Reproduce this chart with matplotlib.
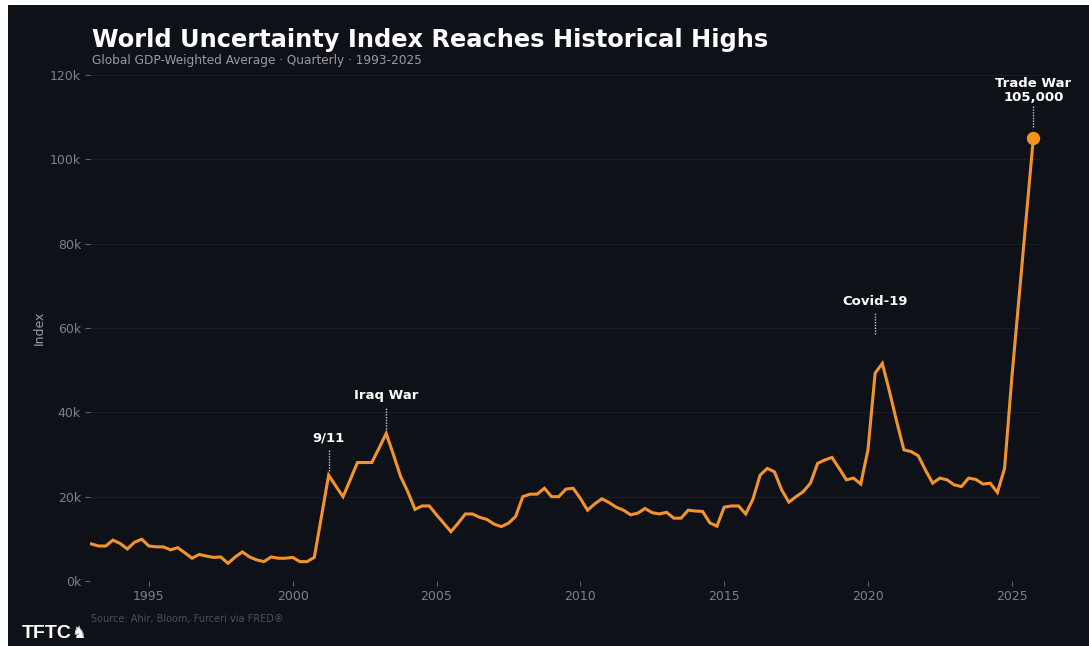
#Importing libraries
import matplotlib.pyplot as plt
import pandas as pd
from matplotlib.patches import Rectangle
from matplotlib.ticker import FuncFormatter

#Quarterly World Uncertainty Index, GDP-weighted average, 1993Q1 - 2025Q4
quarters = pd.period_range('1993Q1', '2025Q4', freq='Q')
wui = [
  8800, 8300, 8300, 9700,      # 1993
  8900, 7600, 9200, 9900,      # 1994
  8300, 8100, 8100, 7400,      # 1995
  7900, 6700, 5400, 6300,      # 1996
  5900, 5600, 5700, 4200,      # 1997
  5700, 6900, 5700, 5000,      # 1998
  4600, 5700, 5400, 5400,      # 1999
  5600, 4600, 4600, 5600,      # 2000
  15300, 25100, 22500, 20000,  # 2001
  24000, 28100, 28100, 28100,  # 2002
  31500, 35000, 30000, 24800,  # 2003
  21200, 17000, 17800, 17800,  # 2004
  15700, 13700, 11700, 13700,  # 2005
  15900, 15900, 15100, 14600,  # 2006
  13500, 12900, 13700, 15300,  # 2007
  20000, 20600, 20600, 22000,  # 2008
  20000, 20000, 21800, 22000,  # 2009
  19600, 16800, 18300, 19500,  # 2010
  18600, 17500, 16800, 15700,  # 2011
  16100, 17200, 16200, 15900,  # 2012
  16300, 14900, 14900, 16800,  # 2013
  16600, 16500, 13800, 13000,  # 2014
  17500, 17800, 17800, 15900,  # 2015
  19400, 25100, 26700, 25900,  # 2016
  21600, 18700, 20000, 21200,  # 2017
  23200, 27900, 28700, 29300,  # 2018
  26700, 24000, 24400, 23000,  # 2019
  31100, 49300, 51600, 44900,  # 2020
  37800, 31100, 30700, 29700,  # 2021
  26300, 23200, 24400, 24000,  # 2022
  22800, 22400, 24400, 24100,  # 2023
  23000, 23200, 21000, 26700,  # 2024
  48000, 67000, 86000, 105000, # 2025
]

#Events to annotate
events = ['9/11', 'Iraq War', 'Covid-19', 'Trade War\n105,000']
event_quarters = ['2001Q2', '2003Q2', '2020Q2', '2025Q4']
#where the dotted leader starts and where its label sits
leader_top = [31000, 41000, 63500, 112700]
label_y = [33800, 43900, 66300, 116300]

#Colours
bg = '#0e1118'
orange = '#f2932c'

def to_year(periods):
  """Turns quarterly periods into decimal years"""
  return periods.year + (periods.quarter - 1) / 4

x = to_year(quarters)

fig = plt.figure(figsize=(10.89, 6.46), dpi=100, facecolor=bg)
ax = fig.add_axes([0.0826, 0.1006, 0.8742, 0.7833])
ax.set_facecolor(bg)

#Main line
ax.plot(x, wui, color=orange, linewidth=2.2, solid_joinstyle='miter', zorder=3)
ax.plot(x[-1:], wui[-1:], 'o', color='#f7931a', markersize=8.6, zorder=4)

#Annotations
event_x = to_year(pd.PeriodIndex(event_quarters, freq='Q'))
for label, ex, top, ty in zip(events, event_x, leader_top, label_y):
  ax.plot([ex, ex], [top - 5000, top], color='#c8c8c8', linewidth=1,
          linestyle=(0, (1, 1)), zorder=2)
  ax.text(ex, ty, label, color='white', fontsize=9.5, fontweight='bold',
          ha='center', va='center', multialignment='center', linespacing=1.05)

#Axes styling
ax.set_xlim(1992.95, 2026.05)
ax.set_ylim(0, 120000)
ax.set_xticks([1995, 2000, 2005, 2010, 2015, 2020, 2025])
ax.set_yticks(range(0, 120001, 20000))
ax.yaxis.set_major_formatter(FuncFormatter(lambda v, p: f'{v / 1000:.0f}k'))
ax.tick_params(colors='#5d626b', labelcolor='#7c818a', labelsize=9,
               length=3.5, width=0.8, pad=3)
ax.grid(axis='y', color='#191d26', linewidth=0.8)
ax.set_axisbelow(True)
for spine in ax.spines.values():
  spine.set_visible(False)

ax.set_ylabel('Index', color='#9a9ea6', fontsize=9)
ax.yaxis.set_label_coords(-0.046, 0.5)

#Titles and footer
fig.text(0.0845, 0.9272, 'World Uncertainty Index Reaches Historical Highs',
         color='white', fontsize=17.4, fontweight='bold', va='baseline')
fig.text(0.0845, 0.9009, 'Global GDP-Weighted Average \u00b7 Quarterly \u00b7 1993-2025',
         color='#9a9a9a', fontsize=8.7, va='baseline')
fig.text(0.0835, 0.0418, 'Source: Ahir, Bloom, Furceri via FRED\u00ae',
         color='#4b5058', fontsize=7, va='center')
fig.text(0.020, 0.0125, 'TFTC', color='white', fontsize=14, fontweight='bold',
         family='Liberation Sans', va='baseline')
fig.text(0.0655, 0.0125, '\u265e', color='white', fontsize=12, va='baseline')

#White strips along the top and left edges of the screenshot
fig.add_artist(Rectangle((0, 1 - 5 / 646), 1, 5 / 646, transform=fig.transFigure,
                         facecolor='white', edgecolor='none'))
fig.add_artist(Rectangle((0, 0), 8 / 1089, 1, transform=fig.transFigure,
                         facecolor='white', edgecolor='none'))

fig.savefig('out.png', dpi=100, facecolor=bg)
